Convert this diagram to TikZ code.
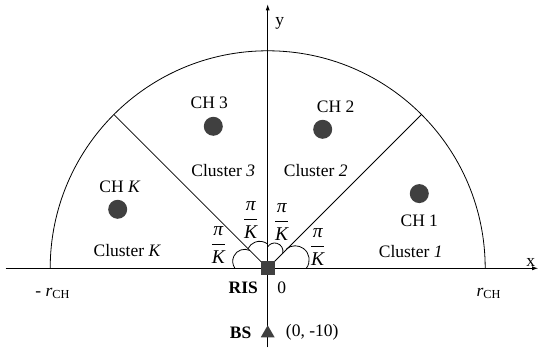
\documentclass[tikz,border=0pt]{standalone}
\usepackage{amsmath}
\usepackage{fontspec}
\setmainfont{Liberation Serif}
\usetikzlibrary{arrows.meta,positioning,shapes.geometric}
\newcommand{\piK}{{\fontsize{19.5}{23}\selectfont$\dfrac{\textit{π}}{\textit{K}}$}}
\newcommand{\rch}{$\textit{r}_{\text{CH}}$}

\begin{document}
\begin{tikzpicture}[x=1pt,y=1pt,font=\fontsize{17.5}{21}\selectfont,line width=0.8pt,
  axis/.style={-{Latex[length=6pt,width=4pt]}},
  chdot/.style={circle,fill=black!75,inner sep=0pt,minimum size=19pt},
  lbl/.style={inner sep=0pt}]
\useasboundingbox (-267.7,-83.7) rectangle (271.3,268.3);
\coordinate (O) at (0,0);
\coordinate (xl) at (-262,0); \coordinate (xr) at (270.5,0);
\coordinate (yb) at (0,-79); \coordinate (yt) at (0,264);
\draw[axis] (xl) -- (xr);
\draw[axis] (yb) -- (yt);
\node[lbl,anchor=base] (xlab) at (263,2) {x};
\node[lbl,anchor=base] (ylab) at (12,243) {y};
\draw ([xshift=217.5pt]O) arc (0:180:217.5);
\draw (O) -- (45:217.5);
\draw (O) -- (135:217.5);
\draw ([shift={(27.5,8.5)}]-37:14) arc (-37:128:14);
\draw ([shift={(7,17)}]-14:8.3) arc (-14:146:8.3);
\draw ([shift={(-8,14)}]51:13) arc (51:154:13);
\draw ([shift={(-23,7)}]64:12) arc (64:215.7:12);
\node[fill=black!75,minimum size=14pt,inner sep=0pt] (ris) at (O) {};
\node[regular polygon,regular polygon sides=3,fill=black!75,inner sep=0pt,minimum size=16pt] (bs) at (0,-65) {};
\node[lbl] (rislab) at (-24.4,-19.5) {\textbf{RIS}};
\node[lbl] (zero) at (14,-19.5) {0};
\node[lbl] (bslab) at (-27,-64) {\textbf{BS}};
\node[lbl] (bspos) at (44.5,-64) {(0, -10)};
\node[lbl] (rneg) at (-215,-25) {- \rch};
\node[lbl] (rpos) at (221,-25) {\rch};
\node[chdot] (ch1) at (151.6,74.7) {};
\node[chdot] (ch2) at (55,139) {};
\node[chdot] (ch3) at (-54.4,142) {};
\node[chdot] (chk) at (-150,59) {};
\node[lbl] (ch1lab) at (151.6,48) {CH 1};
\node[lbl] (ch2lab) at (68,162) {CH 2};
\node[lbl] (ch3lab) at (-58.4,166) {CH 3};
\node[lbl] (chklab) at (-147.7,82) {CH \textit{K}};
\node[lbl] (cl1) at (143,16.5) {Cluster \textit{1}};
\node[lbl] (cl2) at (48,98) {Cluster \textit{2}};
\node[lbl] (cl3) at (-44.4,98) {Cluster \textit{3}};
\node[lbl] (clk) at (-140.4,18) {Cluster \textit{K}};
\node[lbl] (ang1) at (50,21.3) {\piK};
\node[lbl] (ang2) at (14,46.3) {\piK};
\node[lbl] (ang3) at (-17,48) {\piK};
\node[lbl] (angk) at (-49.4,23) {\piK};
\end{tikzpicture}
\end{document}
